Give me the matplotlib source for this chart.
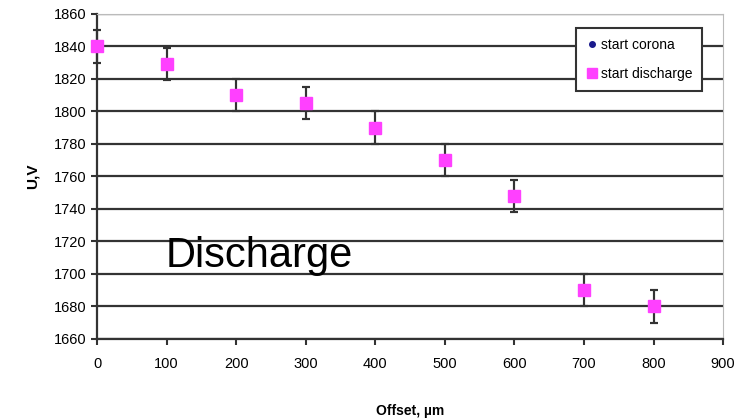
import matplotlib.pyplot as plt
from matplotlib.lines import Line2D

plt.rcParams['font.family'] = ['Liberation Sans', 'DejaVu Sans']

# data
offset = [0, 100, 200, 300, 400, 500, 600, 700, 800]
u_discharge = [1840, 1829, 1810, 1805, 1790, 1770, 1748, 1690, 1680]
u_corona = [1840, 1829, 1810, 1805, 1790, 1770, 1748, 1690, 1680]
err = [10, 10, 10, 10, 10, 10, 10, 10, 10]

fig = plt.figure(figsize=(7.47, 4.19), dpi=100)
ax = fig.add_axes([0.130, 0.191, 0.838, 0.776])

for u, fmt, col, ms, z in [(u_corona, 'o', '#1a1a8c', 4, 3),
                           (u_discharge, 's', '#ff40ff', 8, 4)]:
    eb = ax.errorbar(offset, u, yerr=err, fmt=fmt, color=col, ms=ms,
                     ecolor='#333333', elinewidth=1.5, capsize=3, capthick=1.5,
                     zorder=z)
    for art in eb.lines[0:1] + tuple(eb.lines[1]) + tuple(eb.lines[2]):
        art.set_clip_on(False)

ax.set_xlim(0, 900)
ax.set_ylim(1660, 1860)
ax.set_xticks(range(0, 901, 100))
ax.set_yticks(range(1660, 1861, 20))
ax.yaxis.grid(True, color='#333333', lw=1.6)
ax.set_axisbelow(True)

for s in ['top', 'right']:
    ax.spines[s].set_color('#bbbbbb')
for s in ['left', 'bottom']:
    ax.spines[s].set_color('#333333')
    ax.spines[s].set_linewidth(1.6)
ax.tick_params(axis='both', direction='out', length=4, width=1.5,
               color='#333333', labelsize=10.5)
ax.tick_params(axis='x', pad=9)

ax.set_xlabel('Offset, µm', fontweight='bold', fontsize=10, labelpad=24)
ax.set_ylabel('U,V', fontweight='bold', fontsize=11, labelpad=10)

ax.text(98, 1704, 'Discharge', fontsize=30, color='black', va='baseline')

handles = [Line2D([], [], ls='none', marker='o', ms=4, color='#1a1a8c'),
           Line2D([], [], ls='none', marker='s', ms=7, color='#ff40ff')]
leg = ax.legend(handles, ['start corona', 'start discharge'],
                loc='upper right', bbox_to_anchor=(0.977, 0.977), fontsize=10,
                frameon=True, fancybox=False, edgecolor='#333333',
                handletextpad=0.15, handlelength=0.9, borderpad=0.7,
                labelspacing=1.1, framealpha=1)
leg.get_frame().set_linewidth(1.5)

fig.savefig('out.png', dpi=100)
